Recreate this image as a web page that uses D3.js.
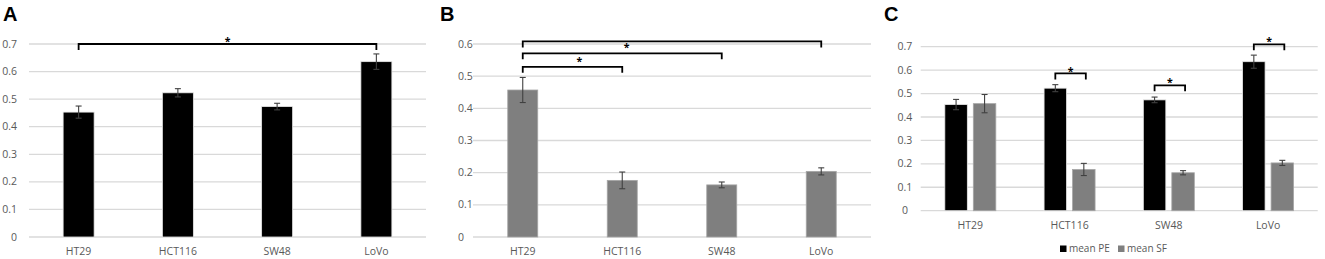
<!DOCTYPE html>
<html>
<head>
<meta charset="utf-8">
<script src="https://cdn.jsdelivr.net/npm/d3@7"></script>
<style>
  body { margin: 0; background: #fff; }
  svg text { font-family: "Open Sans", "Liberation Sans", sans-serif; }
</style>
</head>
<body>
<div id="chart"></div>
<script>
const categories = ["HT29", "HCT116", "SW48", "LoVo"];
const meanPE = [0.453, 0.523, 0.473, 0.636];
const errPE = [0.022, 0.015, 0.012, 0.028];
const meanSF = [0.457, 0.176, 0.162, 0.204];
const errSF = [0.039, 0.026, 0.009, 0.011];

const ticksA = [0, 0.1, 0.2, 0.3, 0.4, 0.5, 0.6, 0.7];
const ticksB = [0, 0.1, 0.2, 0.3, 0.4, 0.5, 0.6];
const ticksC = [0, 0.1, 0.2, 0.3, 0.4, 0.5, 0.6, 0.7];

const seriesNames = ["mean PE", "mean SF"];

// significance brackets: from/to category index, bracket level (data units)
const sigA = [{ from: 0, to: 3, level: 0.70 }];
const starsA = [{ x: 1.5, y: 0.72 }];
const sigB = [
    { from: 0, to: 3, level: 0.608 },
    { from: 0, to: 2, level: 0.571 },
    { from: 0, to: 1, level: 0.529 }
];
const starsB = [{ x: 1.045, y: 0.597 }, { x: 0.57, y: 0.555 }];
const sigC = [
    { cat: 1, level: 0.586 },
    { cat: 2, level: 0.535 },
    { cat: 3, level: 0.710 }
];
const starsC = [{ x: 1.01, y: 0.608 }, { x: 2.01, y: 0.561 }, { x: 3.01, y: 0.734 }];

const W = 1325, H = 259;
const textColor = "#595959";
const gridColor = "#d9d9d9";
const errColor = "#404040";
const black = "#000000";
const gray = "#7f7f7f";

const svg = d3.select("#chart").append("svg")
    .attr("width", W)
    .attr("height", H);

function panelLetter(letter, x) {
    svg.append("text")
        .attr("x", x)
        .attr("y", 21)
        .style("font-family", "'Liberation Sans', Arial, sans-serif")
        .attr("font-weight", "bold")
        .attr("font-size", "20px")
        .attr("fill", "#000")
        .text(letter);
}

// grid, y labels and x labels for one panel
function drawFrame(p) {
    const g = svg.append("g");
    g.selectAll("line.grid")
        .data(p.ticks)
        .join("line")
        .attr("x1", p.x0).attr("x2", p.x1)
        .attr("y1", d => p.y(d)).attr("y2", d => p.y(d))
        .attr("stroke", gridColor)
        .attr("stroke-width", 1.3);

    g.selectAll("text.ylab")
        .data(p.ticks)
        .join("text")
        .attr("x", p.labelX)
        .attr("y", d => p.y(d))
        .attr("dy", "0.34em")
        .attr("text-anchor", p.labelAnchor)
        .attr("font-size", "10.5px")
        .attr("fill", textColor)
        .text(d => d);

    g.selectAll("text.xlab")
        .data(categories)
        .join("text")
        .attr("x", d => p.x(d) + p.x.bandwidth() / 2)
        .attr("y", p.xLabelY)
        .attr("text-anchor", "middle")
        .attr("font-size", "10.5px")
        .attr("fill", textColor)
        .text(d => d);
}

function drawBars(p, values, errs, color, stroke, offset, bw) {
    const cx = (d, i) => p.x(categories[i]) + p.x.bandwidth() / 2 + offset;
    const g = svg.append("g");
    g.selectAll("rect")
        .data(values)
        .join("rect")
        .attr("x", (d, i) => cx(d, i) - bw / 2)
        .attr("y", d => p.y(d))
        .attr("width", bw)
        .attr("height", d => p.y(0) - p.y(d))
        .attr("fill", color)
        .attr("stroke", stroke)
        .attr("stroke-width", 0.8);

    const eb = g.selectAll("g.err")
        .data(values)
        .join("g")
        .attr("stroke", errColor)
        .attr("stroke-width", 1.1);
    eb.append("line")
        .attr("x1", (d, i) => cx(d, i)).attr("x2", (d, i) => cx(d, i))
        .attr("y1", (d, i) => p.y(d + errs[i])).attr("y2", (d, i) => p.y(d - errs[i]));
    [1, -1].forEach(s => {
        eb.append("line")
            .attr("x1", (d, i) => cx(d, i) - 3).attr("x2", (d, i) => cx(d, i) + 3)
            .attr("y1", (d, i) => p.y(d + s * errs[i])).attr("y2", (d, i) => p.y(d + s * errs[i]));
    });
}

function bracket(p, xa, xb, level) {
    const yl = p.y(level);
    svg.append("path")
        .attr("d", `M${xa},${yl + 6}V${yl}H${xb}V${yl + 6}`)
        .attr("fill", "none")
        .attr("stroke", "#000")
        .attr("stroke-width", 1.8);
}

function stars(p, list) {
    const xi = d3.scaleLinear()
        .domain([0, categories.length - 1])
        .range([p.x(categories[0]) + p.x.bandwidth() / 2,
                p.x(categories[categories.length - 1]) + p.x.bandwidth() / 2]);
    svg.selectAll(null)
        .data(list)
        .join("text")
        .attr("x", d => xi(d.x))
        .attr("y", d => p.y(d.y))
        .attr("dy", "0.62em")
        .attr("text-anchor", "middle")
        .attr("font-size", "10.5px")
        .attr("font-weight", "bold")
        .attr("fill", "#000")
        .text("*");
}

function makePanel(x0, x1, yTop, yBottom, maxTick, ticks, labelX, labelAnchor, xLabelY) {
    const x = d3.scaleBand().domain(categories).range([x0, x1]);
    const y = d3.scaleLinear().domain([0, maxTick]).range([yBottom, yTop]);
    return { x, y, x0, x1, ticks, labelX, labelAnchor, xLabelY };
}

// ---- Panel A ----
const pA = makePanel(29, 426, 44, 237, 0.7, ticksA, 17, "end", 255);
panelLetter("A", 3);
drawFrame(pA);
drawBars(pA, meanPE, errPE, black, "#e6e6e6", 0, 31);
sigA.forEach(s => {
    const c = i => pA.x(categories[i]) + pA.x.bandwidth() / 2;
    bracket(pA, c(s.from), c(s.to), s.level);
});
stars(pA, starsA);

// ---- Panel B ----
const pB = makePanel(473, 871, 44, 237, 0.6, ticksB, 458, "start", 255);
panelLetter("B", 440);
drawFrame(pB);
drawBars(pB, meanSF, errSF, gray, "#a6a6a6", 0, 30);
sigB.forEach(s => {
    const c = i => pB.x(categories[i]) + pB.x.bandwidth() / 2;
    bracket(pB, c(s.from), c(s.to), s.level);
});
stars(pB, starsB);

// ---- Panel C ----
const pC = makePanel(920.7, 1317.7, 46.7, 210.7, 0.7, ticksC, 905, "middle", 229);
panelLetter("C", 884);
drawFrame(pC);
const bwC = 22.5, gapC = 6;
drawBars(pC, meanPE, errPE, black, "#e6e6e6", -(bwC + gapC) / 2, bwC);
drawBars(pC, meanSF, errSF, gray, "#a6a6a6", (bwC + gapC) / 2, bwC);
sigC.forEach(s => {
    const c = pC.x(categories[s.cat]) + pC.x.bandwidth() / 2;
    bracket(pC, c - (bwC + gapC) / 2, c + (bwC + gapC) / 2 + 2, s.level);
});
stars(pC, starsC);

// legend for panel C
const legend = svg.append("g").attr("transform", "translate(1060,249)");
const legItems = legend.selectAll("g")
    .data(seriesNames)
    .join("g")
    .attr("transform", (d, i) => `translate(${i * 58},0)`);
legItems.append("rect")
    .attr("x", 0).attr("y", -3.5)
    .attr("width", 6.5).attr("height", 6.5)
    .attr("fill", (d, i) => i === 0 ? black : gray);
legItems.append("text")
    .attr("x", 9)
    .attr("y", 0)
    .attr("dy", "0.34em")
    .attr("font-size", "10px")
    .attr("fill", textColor)
    .text(d => d);
</script>
</body>
</html>
